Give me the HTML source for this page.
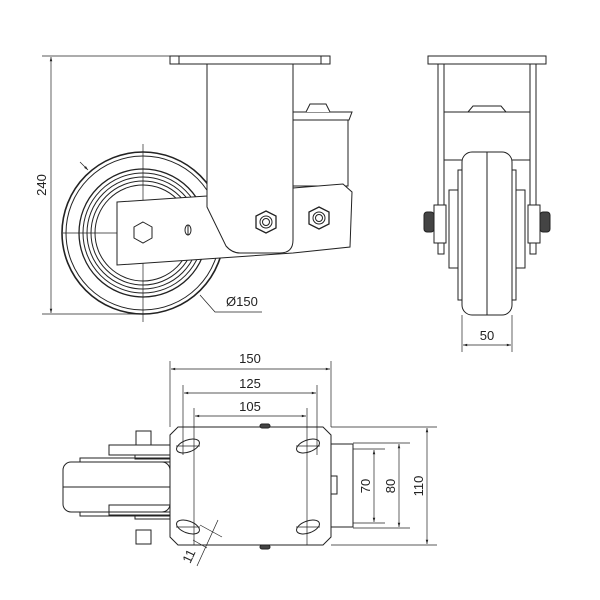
<!DOCTYPE html>
<html><head><style>body{margin:0;background:#fff}svg{display:block}</style></head><body>
<svg width="600" height="600" viewBox="0 0 600 600" xmlns="http://www.w3.org/2000/svg" font-family="Liberation Sans, sans-serif" fill="none" stroke="#222" stroke-width="1">
<defs><marker id="a" viewBox="0 0 10 10" refX="10" refY="5" markerWidth="8" markerHeight="6" orient="auto-start-reverse"><path d="M0,2L10,5L0,8z" fill="#222" stroke="none"/></marker></defs>
<!-- SIDE VIEW -->
<g stroke-width="0.7">
<line x1="42" y1="56" x2="170" y2="56"/><line x1="42" y1="314" x2="142" y2="314"/>
<line x1="51" y1="57" x2="51" y2="313" marker-start="url(#a)" marker-end="url(#a)"/>
<line x1="143" y1="144" x2="143" y2="322"/><line x1="63" y1="233" x2="232" y2="233"/>
</g>
<text x="46" y="185" font-size="13" fill="#222" stroke="none" transform="rotate(-90 46 185)" text-anchor="middle">240</text>
<rect x="170" y="56" width="160" height="8"/><line x1="179" y1="56" x2="179" y2="64"/><line x1="321" y1="56" x2="321" y2="64"/>
<circle cx="143" cy="233" r="81" stroke-width="1.6"/>
<circle cx="143" cy="233" r="77"/>
<circle cx="143" cy="233" r="64" stroke-width="1.3"/>
<circle cx="143" cy="233" r="60"/><circle cx="143" cy="233" r="56"/><circle cx="143" cy="233" r="52"/><circle cx="143" cy="233" r="48"/>
<!-- spring housing -->
<rect x="293" y="120" width="55" height="66" fill="#fff"/>
<path d="M293 112H352L349 120H293z" fill="#fff"/>
<path d="M306 112L310 104H326L330 112" fill="#fff"/>
<!-- arm -->
<path d="M117 202L207 196L293 188L343 184L352 192L350 247L293 253L117 265z" fill="#fff"/>
<!-- fork body -->
<path d="M207 64H293V240Q293 253 280 253H240Q232 253 226 246L207 207z" fill="#fff"/>
<path d="M143 222l9 5v11l-9 5l-9-5v-11z" fill="#fff"/>
<ellipse cx="188" cy="230" rx="3" ry="5"/><line x1="188" y1="225" x2="188" y2="235"/>
<g fill="#fff"><path d="M266 211l10 5v12l-10 5l-10-5v-12z" stroke-width="1.3"/><circle cx="266" cy="222" r="6"/><circle cx="266" cy="222" r="3.5"/>
<path d="M319 207l10 5v12l-10 5l-10-5v-12z" stroke-width="1.3"/><circle cx="319" cy="218" r="6"/><circle cx="319" cy="218" r="3.5"/></g>
<g stroke-width="0.7"><line x1="80" y1="162" x2="88" y2="170" marker-end="url(#a)"/>
<polyline points="200,295 215,312 262,312"/></g>
<text x="226" y="306" font-size="13" fill="#222" stroke="none">Ø150</text>
<!-- FRONT VIEW -->
<rect x="428" y="56" width="118" height="8"/>
<rect x="438" y="64" width="6" height="190"/><rect x="530" y="64" width="6" height="190"/>
<rect x="444" y="112" width="86" height="48"/>
<path d="M468 112l5-6h28l5 6"/>
<rect x="449" y="190" width="9" height="78"/><rect x="516" y="190" width="9" height="78"/>
<rect x="434" y="205" width="12" height="38" fill="#fff"/><rect x="528" y="205" width="12" height="38" fill="#fff"/>
<rect x="424" y="212" width="10" height="20" rx="3" fill="#444"/><rect x="540" y="212" width="10" height="20" rx="3" fill="#444"/>
<rect x="458" y="170" width="58" height="130"/>
<rect x="462" y="152" width="50" height="163" rx="10" fill="#fff"/>
<line x1="487" y1="152" x2="487" y2="315"/>
<g stroke-width="0.7"><line x1="462" y1="315" x2="462" y2="352"/><line x1="512" y1="315" x2="512" y2="352"/>
<line x1="463" y1="345" x2="511" y2="345" marker-start="url(#a)" marker-end="url(#a)"/></g>
<text x="487" y="340" font-size="13" fill="#222" stroke="none" text-anchor="middle">50</text>
<!-- TOP VIEW -->
<rect x="63" y="462" width="107" height="50" rx="8"/>
<line x1="63" y1="487" x2="170" y2="487"/>
<rect x="80" y="458" width="90" height="4"/><rect x="80" y="512" width="90" height="4"/>
<rect x="109" y="445" width="61" height="10"/><rect x="109" y="505" width="61" height="10"/>
<rect x="135" y="455" width="35" height="4"/><rect x="135" y="515" width="35" height="4"/>
<rect x="136" y="431" width="15" height="14"/><rect x="136" y="530" width="15" height="14"/>
<rect x="331" y="444" width="22" height="83"/><rect x="331" y="476" width="6" height="18"/>
<path d="M178 427H323L331 435V537L323 545H178L170 537V435z" fill="#fff"/>
<rect x="260" y="424" width="10" height="4" rx="2" fill="#444"/><rect x="260" y="545" width="10" height="4" rx="2" fill="#444"/>
<g fill="#fff"><ellipse cx="188" cy="446" rx="12" ry="6" transform="rotate(-20 188 446)"/><ellipse cx="308" cy="446" rx="12" ry="6" transform="rotate(-20 308 446)"/>
<ellipse cx="188" cy="527" rx="12" ry="6" transform="rotate(20 188 527)"/><ellipse cx="308" cy="527" rx="12" ry="6" transform="rotate(-20 308 527)"/></g>
<g stroke-width="0.7">
<line x1="170" y1="361" x2="170" y2="427"/><line x1="331" y1="361" x2="331" y2="427"/>
<line x1="183" y1="385" x2="183" y2="455"/><line x1="317" y1="385" x2="317" y2="455"/>
<line x1="194" y1="408" x2="194" y2="545"/><line x1="307" y1="408" x2="307" y2="545"/>
<line x1="176" y1="446" x2="200" y2="446"/><line x1="296" y1="446" x2="320" y2="446"/><line x1="176" y1="527" x2="200" y2="527"/><line x1="296" y1="527" x2="320" y2="527"/>
<line x1="171" y1="369" x2="330" y2="369" marker-start="url(#a)" marker-end="url(#a)"/>
<line x1="184" y1="393" x2="316" y2="393" marker-start="url(#a)" marker-end="url(#a)"/>
<line x1="195" y1="416" x2="306" y2="416" marker-start="url(#a)" marker-end="url(#a)"/>
<line x1="331" y1="427" x2="437" y2="427"/><line x1="331" y1="545" x2="437" y2="545"/>
<line x1="353" y1="443" x2="410" y2="443"/><line x1="353" y1="528" x2="410" y2="528"/>
<line x1="353" y1="449" x2="385" y2="449"/><line x1="353" y1="523" x2="385" y2="523"/>
<line x1="427" y1="428" x2="427" y2="544" marker-start="url(#a)" marker-end="url(#a)"/>
<line x1="399" y1="444" x2="399" y2="527" marker-start="url(#a)" marker-end="url(#a)"/>
<line x1="374" y1="450" x2="374" y2="522" marker-start="url(#a)" marker-end="url(#a)"/>
<line x1="200" y1="525" x2="222" y2="537"/><line x1="193" y1="540" x2="207" y2="548"/>
<line x1="218" y1="520" x2="197" y2="566"/>
</g>
<text x="150" y="363" font-size="13" fill="#222" stroke="none" transform="translate(100 0)" text-anchor="middle">150</text>
<text x="250" y="388" font-size="13" fill="#222" stroke="none" text-anchor="middle">125</text>
<text x="250" y="411" font-size="13" fill="#222" stroke="none" text-anchor="middle">105</text>
<text x="370" y="486" font-size="13" fill="#222" stroke="none" transform="rotate(-90 370 486)" text-anchor="middle">70</text>
<text x="395" y="486" font-size="13" fill="#222" stroke="none" transform="rotate(-90 395 486)" text-anchor="middle">80</text>
<text x="423" y="486" font-size="13" fill="#222" stroke="none" transform="rotate(-90 423 486)" text-anchor="middle">110</text>
<text x="193" y="558" font-size="13" fill="#222" stroke="none" transform="rotate(-65 193 558)" text-anchor="middle">11</text>
</svg>
</body></html>
